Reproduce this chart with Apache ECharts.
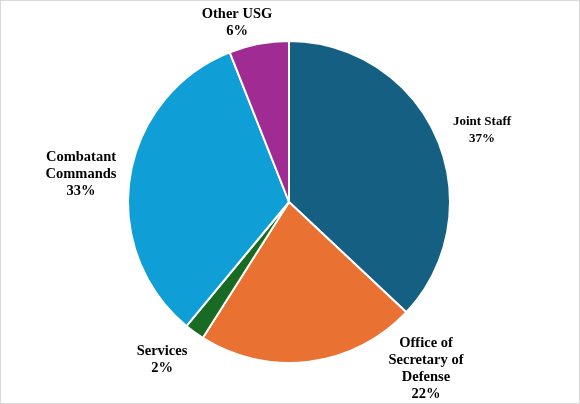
<!DOCTYPE html>
<html>
<head>
<meta charset="utf-8">
<script src="https://cdn.jsdelivr.net/npm/echarts@6/dist/echarts.min.js"></script>
<style>
  html, body { margin: 0; padding: 0; background: #fff; }
  #main { width: 580px; height: 404px; box-sizing: border-box; border: 1px solid #d9d9d9; }
</style>
</head>
<body>
<div id="main"></div>
<script>
// categories and shares (%)
var categories = ['Joint Staff', 'Office of\nSecretary of\nDefense', 'Services', 'Combatant\nCommands', 'Other USG'];
var shares = [37, 22, 2, 33, 6];
var colors = ['#156082', '#E97132', '#196B24', '#0F9ED5', '#A02B93'];

// where each label's centre sits (px, inside the chart box) and its size
var labelSpots = [[481, 129], [425, 368], [161, 359], [80, 173], [236, 22]];
var labelSizes = [13, 14.5, 14.5, 14.5, 14.5];

var myChart = echarts.init(document.getElementById('main'));

var pieData = categories.map(function (name, i) {
    return {
        name: name,
        value: shares[i],
        itemStyle: { color: colors[i] },
        label: { fontSize: labelSizes[i] }
    };
});

var option = {
    animation: false,
    series: [
        {
            type: 'pie',
            center: [288, 201],
            radius: 161,
            startAngle: 90,
            clockwise: true,
            data: pieData,
            itemStyle: { borderColor: '#fff', borderWidth: 2 },
            label: {
                show: true,
                position: 'outside',
                formatter: function (p) { return p.name + '\n' + p.value + '%'; },
                fontFamily: '"Liberation Serif", "Times New Roman", serif',
                fontWeight: 'bold',
                fontSize: 13,
                lineHeight: 17,
                color: '#000',
                align: 'center',
                overflow: 'none',
                edgeDistance: 0
            },
            labelLine: { show: false },
            labelLayout: function (params) {
                var s = labelSpots[params.dataIndex];
                return { x: s[0], y: s[1], align: 'center', verticalAlign: 'middle' };
            }
        }
    ]
};
myChart.setOption(option);
</script>
</body>
</html>
